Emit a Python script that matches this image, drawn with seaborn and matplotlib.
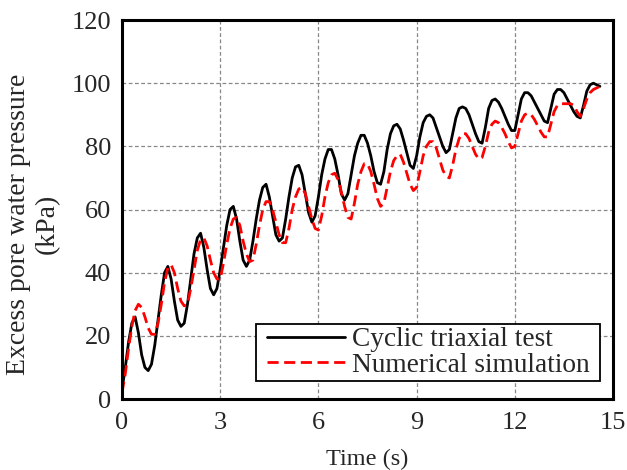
import numpy as np
import pandas as pd
import matplotlib
matplotlib.use("Agg")
import matplotlib.pyplot as plt
import seaborn as sns
from matplotlib.ticker import MultipleLocator
from matplotlib.path import Path

# ---- data ----
test_time = [0.0, 0.1, 0.2, 0.3, 0.4, 0.5, 0.6, 0.7, 0.8, 0.9,
             1.0, 1.1, 1.2, 1.3, 1.4, 1.5, 1.6, 1.7, 1.8, 1.9,
             2.0, 2.1, 2.2, 2.3, 2.4, 2.5, 2.6, 2.7, 2.8, 2.9,
             3.0, 3.1, 3.2, 3.3, 3.4, 3.5, 3.6, 3.7, 3.8, 3.9,
             4.0, 4.1, 4.2, 4.3, 4.4, 4.5, 4.6, 4.7, 4.8, 4.9,
             5.0, 5.1, 5.2, 5.3, 5.4, 5.5, 5.6, 5.7, 5.8, 5.9,
             6.0, 6.1, 6.2, 6.3, 6.4, 6.5, 6.6, 6.7, 6.8, 6.9,
             7.0, 7.1, 7.2, 7.3, 7.4, 7.5, 7.6, 7.7, 7.8, 7.9,
             8.0, 8.1, 8.2, 8.3, 8.4, 8.5, 8.6, 8.7, 8.8, 8.9,
             9.0, 9.1, 9.2, 9.3, 9.4, 9.5, 9.6, 9.7, 9.8, 9.9,
             10.0, 10.1, 10.2, 10.3, 10.4, 10.5, 10.6, 10.7, 10.8, 10.9,
             11.0, 11.1, 11.2, 11.3, 11.4, 11.5, 11.6, 11.7, 11.8, 11.9,
             12.0, 12.1, 12.2, 12.3, 12.4, 12.5, 12.6, 12.7, 12.8, 12.9,
             13.0, 13.1, 13.2, 13.3, 13.4, 13.5, 13.6, 13.7, 13.8, 13.9,
             14.0, 14.1, 14.2, 14.3, 14.4, 14.5, 14.6]
test_pwp = [3, 10, 18, 24, 26, 21, 14, 10, 9, 11,
            17, 25, 33, 40, 42, 38, 31, 25, 23, 24,
            30, 38, 46, 51, 52.5, 48, 41, 35, 33, 35,
            41, 48, 55, 60, 61, 57, 50, 44, 42, 44,
            50, 57, 63, 67, 68, 64, 58, 52, 50, 51,
            57, 64, 70, 73.5, 74, 71, 65, 59, 56, 58,
            64, 71, 76, 79, 79, 76, 71, 65, 63, 65,
            71, 77, 81, 83.5, 83.5, 81, 77, 72, 68.5, 68,
            72, 79, 84, 86.5, 87, 85.5, 82, 78, 74, 73,
            77, 83, 87.5, 89.5, 90, 89, 86, 83, 80, 78,
            79, 84, 89, 92, 92.5, 92, 90, 87, 84, 81.5,
            81, 86, 92, 94.5, 95, 94, 92, 89.5, 87, 85,
            85, 90, 95, 97, 97, 96, 94, 92, 90, 88,
            87.5, 92, 96.5, 98, 98, 97, 95, 93, 91, 89.5,
            89, 93, 97.5, 99.5, 100, 99.5, 99]

sim_time = test_time
sim_pwp = [2, 8, 16, 23, 28, 30, 29, 26, 22.5, 20.5,
           20.5, 24, 30, 37, 41.5, 42.5, 40, 35, 31, 29.5,
           30, 35, 41, 47, 50.5, 51, 48.5, 44, 40, 38,
           38, 43, 49, 54, 57, 57.5, 55, 50, 46, 43.5,
           44, 49, 55, 60, 62.5, 62.5, 60, 56, 52, 49.5,
           49.5, 54, 60, 64, 66.5, 67, 65, 61, 57, 54,
           53.5, 58, 64, 68.5, 71, 71.5, 69.5, 65.5, 61, 57.5,
           57, 62, 68, 72, 74.5, 74.5, 72, 68, 63.5, 61,
           62, 67, 72, 75.5, 77, 77.5, 75, 71.5, 68, 66,
           67, 72, 77, 80, 81.5, 81.5, 79.5, 76, 72.5, 70.5,
           70, 74, 79, 82.5, 84, 84, 82.5, 80, 77.5, 76,
           76.5, 80, 84.5, 87, 88, 87.5, 86, 84, 81.5, 79.5,
           80, 84, 88, 90, 90.5, 90, 88.5, 86.5, 84.5, 83,
           83, 87, 91, 93, 93.5, 93.5, 93.5, 93.5, 93, 91,
           89.5, 92, 95, 97, 98, 98.5, 99]

series_names = ["Cyclic triaxial test", "Numerical simulation"]
x_ticks = [0, 3, 6, 9, 12, 15]
y_ticks = [0, 20, 40, 60, 80, 100, 120]

df = pd.concat([
    pd.DataFrame({"Time": test_time, "PWP": test_pwp, "Series": series_names[0]}),
    pd.DataFrame({"Time": sim_time, "PWP": sim_pwp, "Series": series_names[1]}),
], ignore_index=True)

sns.set_style("white")
plt.rcParams["font.family"] = ["Liberation Serif", "DejaVu Serif"]
plt.rcParams["mathtext.fontset"] = "stix"
plt.rcParams["lines.solid_joinstyle"] = "round"
plt.rcParams["lines.dash_joinstyle"] = "round"

fig = plt.figure(figsize=(6.27, 4.70), dpi=100)
ax = fig.add_axes([0.1946, 0.151, 0.7831, 0.8064])

sns.lineplot(data=df, x="Time", y="PWP", hue="Series", style="Series",
             palette={series_names[0]: "black", series_names[1]: "#ff0000"},
             dashes={series_names[0]: "", series_names[1]: (4, 2)},
             linewidth=2.0, ax=ax, legend=True, sort=False, estimator=None)

ax.set_xlim(0, 15)
ax.set_ylim(0, 120)
ax.set_xticks(x_ticks)
ax.set_yticks(y_ticks)
ax.yaxis.set_minor_locator(MultipleLocator(4))
ax.tick_params(axis="both", which="both", direction="in", labelsize=19,
               top=False, right=False, width=1.5, length=7)
ax.tick_params(axis="x", pad=9)
ax.tick_params(axis="y", pad=8)
ax.tick_params(axis="y", which="minor", length=6, width=1.3)
ax.grid(True, which="major", color="#888888", linestyle=(0, (3, 2)), linewidth=0.9)
for s in ax.spines.values():
    s.set_linewidth(2.2)
    s.set_color("black")

ax.set_xlabel("Time (s)", fontsize=17.5, labelpad=11)
ax.set_ylabel("Excess pore water pressure\n(kPa)", fontsize=20, labelpad=8,
              linespacing=1.2)
ax.yaxis.label.set_y(0.462)

leg = ax.legend(loc="lower right", bbox_to_anchor=(0.959, 0.047), fontsize=19.7,
                frameon=True, fancybox=False, edgecolor="black",
                handlelength=2.85, handletextpad=0.26, borderpad=0.12,
                labelspacing=0.02, borderaxespad=0.0)
frame = leg.get_frame()
frame.set_linewidth(1.3)
frame.set_alpha(1)


def wide_box(x0, y0, width, height, mutation_size):
    padx = 7.0
    xa, xb = x0 - padx, x0 + width + padx
    ya, yb = y0, y0 + height
    return Path([(xa, ya), (xb, ya), (xb, yb), (xa, yb), (xa, ya)], closed=True)


frame.set_boxstyle(wide_box)

fig.savefig("out.png", dpi=100)
